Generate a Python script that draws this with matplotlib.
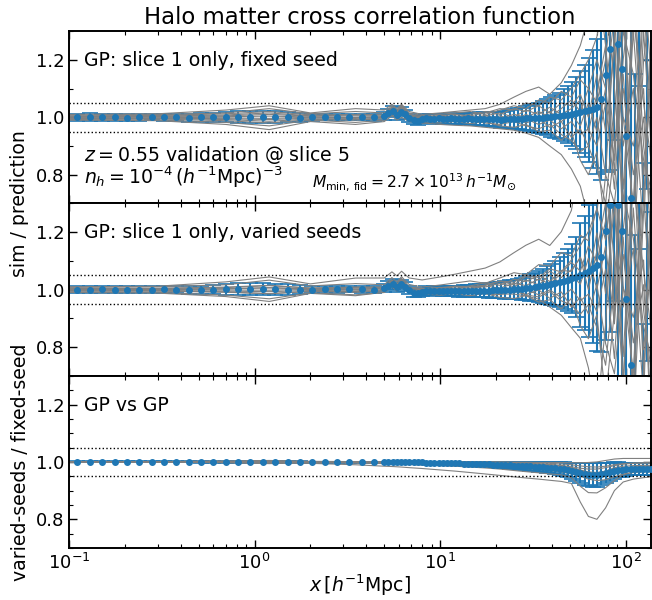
import matplotlib
matplotlib.use("Agg")
import matplotlib.pyplot as plt
import numpy as np
from matplotlib.ticker import MultipleLocator, LogLocator, NullFormatter

TITLE = "Halo matter cross correlation function"
PANEL_LABELS = [
    "GP: slice 1 only, fixed seed",
    "GP: slice 1 only, varied seeds",
    "GP vs GP",
]
INFO_Z = r"$z = 0.55$ validation @ slice 5"
INFO_N = r"$n_h = 10^{-4}\,(h^{-1}\mathrm{Mpc})^{-3}$"
INFO_M = r"$M_{\rm min,\,fid} = 2.7 \times 10^{13}\,h^{-1}M_{\odot}$"
YLABEL_TOP = "sim / prediction"
YLABEL_BOTTOM = "varied-seeds / fixed-seed"
XLABEL = r"$x\,[h^{-1}\mathrm{Mpc}]$"

# bin centres of the measured ratio (log bins, then finer bins on large scales)
BIN_X_SMALL = [
    0.111, 0.129, 0.151, 0.176, 0.205, 0.239, 0.279, 0.325, 0.379, 0.442,
    0.515, 0.600, 0.700, 0.816, 0.951, 1.109, 1.293, 1.507, 1.757, 2.049,
    2.389, 2.785, 3.247, 3.786, 4.414,
]
BIN_X_LARGE = [
    5.00, 5.27, 5.55, 5.84, 6.15, 6.48, 6.83, 7.19, 7.57, 7.97,
    8.40, 8.84, 9.31, 9.81, 10.33, 10.88, 11.46, 12.07, 12.71, 13.39,
    14.10, 14.84, 15.63, 16.46, 17.34, 18.26, 19.24, 20.26, 21.34, 22.47,
    23.67, 24.92, 26.25, 27.65, 29.12, 30.67, 32.30, 34.02, 35.83, 37.73,
    39.74, 41.85, 44.08, 46.42, 48.89, 51.49, 54.23, 57.11, 60.15, 63.35,
    66.72, 70.27, 74.01, 77.94, 82.09, 86.46, 91.05, 95.90, 101.0, 106.4,
    112.0, 118.0, 124.3, 130.9, 137.8,
]

# panel 1: sim / GP (fixed seed), mean and scatter over validation cosmologies
P1_MEAN = [
    1.000, 1.001, 1.000, 1.000, 0.999, 1.000, 1.001, 1.000, 1.000, 0.999,
    1.000, 1.000, 1.001, 1.001, 1.002, 1.002, 1.001, 1.000, 0.999, 1.000,
    1.001, 1.002, 1.002, 1.001, 1.000,
    1.005, 1.015, 1.022, 1.008, 1.020, 1.010, 0.998, 0.990, 0.988, 0.993,
    0.996, 0.995, 0.994, 0.996, 0.995, 0.994, 0.996, 0.995, 0.994, 0.995,
    0.996, 0.995, 0.994, 0.995, 0.994, 0.993, 0.994, 0.993, 0.992, 0.993,
    0.993, 0.994, 0.995, 0.994, 0.996, 0.997, 0.997, 0.998, 0.999, 1.000,
    1.001, 1.003, 1.005, 1.007, 1.009, 1.011, 1.014, 1.018, 1.022, 1.026,
    1.030, 1.036, 1.062, 1.148, 1.237, 1.420, 1.255, 1.168, 0.936, 0.720,
    0.450, 1.550, 0.550, 1.650, 0.400,
]
P1_ERR = [
    0.013, 0.013, 0.013, 0.012, 0.012, 0.012, 0.012, 0.013, 0.013, 0.014,
    0.015, 0.016, 0.018, 0.020, 0.021, 0.021, 0.020, 0.018, 0.015, 0.013,
    0.012, 0.011, 0.011, 0.012, 0.013,
    0.014, 0.015, 0.016, 0.016, 0.016, 0.015, 0.014, 0.014, 0.014, 0.014,
    0.015, 0.015, 0.016, 0.016, 0.017, 0.017, 0.018, 0.018, 0.019, 0.020,
    0.020, 0.021, 0.022, 0.023, 0.024, 0.025, 0.026, 0.027, 0.028, 0.030,
    0.032, 0.034, 0.036, 0.039, 0.042, 0.045, 0.049, 0.053, 0.058, 0.063,
    0.068, 0.074, 0.081, 0.090, 0.100, 0.112, 0.126, 0.142, 0.160, 0.180,
    0.205, 0.235, 0.280, 0.340, 0.420, 0.500, 0.600, 0.700, 0.600, 0.650,
    0.700, 0.440, 0.290, 0.900, 0.800,
]

# panel 2: sim / GP (varied seeds)
P2_MEAN = [
    1.000, 1.000, 1.001, 1.000, 1.000, 0.999, 1.000, 1.001, 1.000, 1.000,
    0.999, 1.000, 1.001, 1.002, 1.002, 1.001, 1.001, 1.000, 1.000, 1.000,
    1.001, 1.001, 1.002, 1.001, 1.000,
    1.005, 1.014, 1.020, 1.008, 1.018, 1.010, 0.998, 0.990, 0.988, 0.993,
    0.996, 0.995, 0.995, 0.996, 0.996, 0.995, 0.996, 0.996, 0.995, 0.996,
    0.997, 0.996, 0.996, 0.997, 0.997, 0.997, 0.998, 0.998, 0.998, 0.999,
    1.000, 1.001, 1.002, 1.003, 1.005, 1.007, 1.009, 1.011, 1.013, 1.016,
    1.019, 1.022, 1.026, 1.030, 1.034, 1.039, 1.045, 1.051, 1.058, 1.066,
    1.074, 1.085, 1.114, 1.204, 1.294, 1.480, 1.294, 1.204, 0.968, 0.739,
    0.470, 1.600, 0.580, 1.700, 0.420,
]
P2_ERR = [
    0.013, 0.013, 0.013, 0.012, 0.012, 0.012, 0.012, 0.013, 0.013, 0.014,
    0.015, 0.016, 0.018, 0.020, 0.021, 0.021, 0.020, 0.018, 0.015, 0.013,
    0.012, 0.011, 0.011, 0.012, 0.013,
    0.014, 0.015, 0.016, 0.016, 0.016, 0.015, 0.014, 0.014, 0.014, 0.014,
    0.015, 0.015, 0.016, 0.016, 0.017, 0.017, 0.018, 0.018, 0.019, 0.020,
    0.020, 0.021, 0.022, 0.023, 0.024, 0.025, 0.026, 0.027, 0.028, 0.030,
    0.032, 0.034, 0.036, 0.039, 0.042, 0.046, 0.050, 0.055, 0.060, 0.066,
    0.072, 0.079, 0.087, 0.096, 0.107, 0.120, 0.140, 0.180, 0.200, 0.230,
    0.260, 0.300, 0.330, 0.380, 0.440, 0.520, 0.620, 0.720, 0.620, 0.680,
    0.720, 0.460, 0.300, 0.950, 0.850,
]

# panel 3: GP (varied seeds) / GP (fixed seed)
P3_MEAN = [
    1.000, 1.000, 1.000, 1.000, 1.000, 1.000, 1.000, 1.000, 1.000, 1.000,
    1.000, 1.000, 1.000, 1.000, 0.999, 0.999, 0.999, 0.999, 0.999, 0.999,
    0.999, 0.999, 0.999, 0.999, 0.999,
    0.999, 0.999, 0.999, 0.999, 0.999, 0.999, 0.998, 0.998, 0.998, 0.998,
    0.997, 0.997, 0.997, 0.996, 0.996, 0.996, 0.995, 0.995, 0.995, 0.994,
    0.994, 0.993, 0.993, 0.992, 0.992, 0.991, 0.990, 0.990, 0.989, 0.988,
    0.988, 0.987, 0.987, 0.986, 0.985, 0.984, 0.983, 0.982, 0.981, 0.980,
    0.980, 0.979, 0.977, 0.975, 0.972, 0.969, 0.966, 0.962, 0.958, 0.955,
    0.953, 0.955, 0.958, 0.962, 0.966, 0.970, 0.972, 0.973, 0.974, 0.975,
    0.975, 0.975, 0.975, 0.975, 0.975,
]
P3_ERR = [
    0.002, 0.002, 0.002, 0.002, 0.002, 0.002, 0.002, 0.002, 0.002, 0.002,
    0.003, 0.003, 0.004, 0.004, 0.004, 0.004, 0.004, 0.003, 0.003, 0.002,
    0.002, 0.002, 0.002, 0.002, 0.002,
    0.002, 0.002, 0.002, 0.002, 0.002, 0.002, 0.002, 0.003, 0.003, 0.003,
    0.003, 0.003, 0.003, 0.004, 0.004, 0.004, 0.004, 0.005, 0.005, 0.005,
    0.006, 0.006, 0.007, 0.007, 0.008, 0.008, 0.009, 0.009, 0.010, 0.010,
    0.011, 0.012, 0.012, 0.013, 0.013, 0.014, 0.015, 0.016, 0.017, 0.018,
    0.019, 0.020, 0.021, 0.023, 0.025, 0.028, 0.031, 0.034, 0.037, 0.040,
    0.042, 0.041, 0.038, 0.034, 0.031, 0.028, 0.026, 0.024, 0.022, 0.021,
    0.020, 0.020, 0.020, 0.020, 0.020,
]

# individual validation cosmologies, sampled at these separations
GREY_X = [
    0.1, 0.3, 0.7, 1.2, 2.0, 3.5, 5.0, 5.5,
    5.85, 6.2, 6.8, 8.0, 10, 12, 14.5, 17.5,
    21, 25, 29, 34, 39, 45, 51, 57,
    63, 70, 78, 87, 97, 110, 125, 137,
]
P1_GREY = [
    [1.010, 1.012, 1.025, 1.040, 1.015, 1.030, 1.025, 1.045,
     1.030, 1.045, 1.020, 1.010, 1.015, 1.020, 1.025, 1.030,
     1.045, 1.070, 1.090, 1.105, 1.080, 1.120, 1.180, 1.250,
     1.350, 1.500, 1.250, 0.800, 1.600, 0.500, 1.200, 1.400],
    [0.990, 0.988, 0.975, 0.957, 0.985, 0.975, 0.985, 1.005,
     0.990, 1.000, 0.985, 0.980, 0.975, 0.972, 0.970, 0.965,
     0.960, 0.955, 0.945, 0.930, 0.900, 0.870, 0.820, 0.760,
     0.650, 0.500, 0.800, 1.300, 0.600, 1.500, 0.900, 0.700],
    [1.005, 1.006, 1.012, 1.020, 1.008, 1.010, 1.010, 1.035,
     1.020, 1.040, 1.010, 1.000, 1.005, 1.010, 1.005, 1.015,
     1.030, 1.025, 1.050, 1.040, 1.070, 1.060, 1.100, 1.150,
     1.200, 1.280, 1.450, 1.100, 0.700, 1.300, 0.800, 1.100],
    [0.995, 0.994, 0.988, 0.980, 0.992, 0.990, 0.995, 1.020,
     1.005, 1.025, 0.995, 0.990, 0.992, 0.985, 0.990, 0.980,
     0.975, 0.985, 0.970, 0.960, 0.975, 0.940, 0.920, 0.880,
     0.900, 0.820, 0.700, 1.000, 1.400, 0.600, 1.300, 0.900],
    [1.002, 1.003, 1.005, 1.010, 1.004, 1.005, 1.005, 1.030,
     1.015, 1.035, 1.005, 0.995, 1.000, 1.000, 0.995, 1.005,
     0.995, 1.010, 1.000, 1.020, 1.000, 1.030, 1.060, 1.020,
     1.100, 1.050, 1.200, 1.500, 1.000, 0.700, 1.400, 1.000],
    [0.998, 0.997, 0.995, 0.992, 0.997, 0.996, 1.000, 1.025,
     1.010, 1.030, 1.000, 0.992, 0.995, 0.990, 0.998, 0.990,
     1.000, 0.985, 0.995, 0.975, 0.990, 0.960, 0.985, 0.940,
     0.960, 0.900, 1.050, 0.750, 1.200, 1.500, 0.700, 1.250],
    [1.008, 1.009, 1.015, 1.030, 1.012, 1.020, 1.015, 1.040,
     1.025, 1.042, 1.015, 1.005, 1.010, 1.015, 1.020, 1.010,
     1.025, 1.040, 1.030, 1.060, 1.050, 1.090, 1.070, 1.130,
     1.100, 1.200, 1.100, 1.350, 0.900, 1.100, 0.600, 1.300],
    [0.992, 0.991, 0.982, 0.970, 0.990, 0.982, 0.990, 1.010,
     0.995, 1.010, 0.990, 0.985, 0.980, 0.985, 0.978, 0.985,
     0.970, 0.965, 0.975, 0.950, 0.955, 0.920, 0.950, 0.850,
     0.800, 0.880, 0.600, 0.900, 1.100, 0.800, 1.000, 0.600],
    [1.000, 1.001, 1.002, 1.004, 1.001, 1.000, 1.002, 1.028,
     1.012, 1.032, 1.002, 0.998, 0.996, 1.002, 1.000, 0.995,
     1.005, 0.990, 1.010, 0.990, 1.020, 0.985, 1.010, 0.970,
     1.050, 0.950, 1.100, 0.850, 1.300, 1.150, 0.850, 0.750],
    [1.004, 1.004, 1.008, 1.015, 1.005, 1.008, 1.008, 1.032,
     1.018, 1.036, 1.008, 1.002, 1.006, 1.000, 1.010, 1.020,
     1.010, 1.030, 1.020, 1.040, 1.015, 1.050, 1.040, 1.080,
     1.000, 1.150, 0.950, 1.250, 0.750, 1.350, 1.050, 0.850],
    [0.996, 0.996, 0.992, 0.986, 0.994, 0.993, 0.997, 1.022,
     1.008, 1.028, 0.997, 0.995, 0.990, 0.995, 0.985, 0.995,
     0.985, 1.000, 0.980, 0.995, 0.965, 0.985, 0.930, 0.960,
     0.900, 1.000, 0.800, 0.700, 1.000, 0.900, 1.100, 0.500],
    [1.001, 1.000, 0.998, 0.996, 1.000, 0.999, 1.001, 1.026,
     1.011, 1.030, 1.001, 0.997, 1.002, 1.005, 1.000, 1.005,
     1.015, 1.000, 1.025, 1.010, 1.035, 1.010, 1.030, 1.060,
     0.950, 1.080, 1.250, 0.900, 1.150, 0.650, 1.500, 1.150],
]
P3_GREY = [
    [1.000, 1.000, 0.998, 0.996, 0.995, 0.990, 0.985, 0.984,
     0.983, 0.982, 0.980, 0.977, 0.972, 0.968, 0.963, 0.958,
     0.953, 0.948, 0.944, 0.940, 0.936, 0.932, 0.925, 0.860,
     0.810, 0.800, 0.840, 0.900, 0.930, 0.940, 0.945, 0.948],
    [1.000, 1.000, 0.999, 0.998, 0.998, 0.996, 0.994, 0.993,
     0.992, 0.992, 0.991, 0.989, 0.987, 0.985, 0.982, 0.979,
     0.975, 0.970, 0.966, 0.962, 0.958, 0.955, 0.945, 0.915,
     0.893, 0.892, 0.910, 0.935, 0.955, 0.965, 0.970, 0.972],
    [1.000, 1.001, 1.003, 1.005, 1.002, 1.001, 1.001, 1.001,
     1.001, 1.001, 1.001, 1.001, 1.001, 1.000, 1.000, 1.000,
     1.000, 0.999, 0.999, 0.998, 0.998, 0.998, 0.997, 0.997,
     0.998, 1.000, 1.005, 1.010, 1.012, 1.012, 1.012, 1.012],
    [1.000, 0.999, 0.997, 0.994, 0.998, 0.999, 0.999, 0.999,
     0.999, 0.999, 0.998, 0.998, 0.997, 0.996, 0.995, 0.994,
     0.992, 0.990, 0.988, 0.985, 0.982, 0.978, 0.972, 0.962,
     0.950, 0.945, 0.950, 0.962, 0.970, 0.975, 0.976, 0.976],
    [1.000, 1.001, 1.002, 1.003, 1.001, 1.000, 0.999, 0.999,
     0.998, 0.998, 0.998, 0.997, 0.996, 0.995, 0.994, 0.992,
     0.990, 0.988, 0.986, 0.984, 0.980, 0.975, 0.968, 0.958,
     0.955, 0.958, 0.968, 0.980, 0.985, 0.987, 0.988, 0.988],
    [1.000, 1.000, 1.000, 0.999, 1.000, 1.000, 1.000, 1.000,
     1.000, 1.000, 1.000, 0.999, 0.999, 0.998, 0.998, 0.997,
     0.996, 0.995, 0.994, 0.993, 0.991, 0.988, 0.983, 0.978,
     0.975, 0.975, 0.980, 0.987, 0.992, 0.995, 0.996, 0.996],
    [1.000, 0.999, 0.998, 0.997, 0.999, 0.999, 0.998, 0.998,
     0.998, 0.997, 0.997, 0.996, 0.994, 0.992, 0.990, 0.988,
     0.985, 0.982, 0.979, 0.975, 0.970, 0.965, 0.958, 0.950,
     0.940, 0.935, 0.938, 0.948, 0.958, 0.963, 0.965, 0.965],
    [1.000, 1.000, 1.001, 1.002, 1.001, 1.000, 1.000, 1.000,
     1.000, 1.000, 1.000, 1.000, 0.999, 0.999, 0.999, 0.998,
     0.997, 0.996, 0.995, 0.993, 0.990, 0.986, 0.980, 0.972,
     0.965, 0.963, 0.968, 0.975, 0.980, 0.982, 0.983, 0.983],
    [1.000, 1.000, 0.999, 0.998, 0.999, 0.998, 0.997, 0.997,
     0.996, 0.996, 0.995, 0.994, 0.993, 0.991, 0.989, 0.986,
     0.983, 0.980, 0.977, 0.974, 0.970, 0.966, 0.960, 0.952,
     0.946, 0.948, 0.955, 0.965, 0.972, 0.975, 0.976, 0.976],
    [1.000, 1.000, 1.001, 1.001, 1.000, 1.000, 1.000, 1.000,
     1.000, 1.000, 0.999, 0.999, 0.998, 0.998, 0.997, 0.996,
     0.995, 0.994, 0.992, 0.990, 0.987, 0.984, 0.978, 0.970,
     0.962, 0.960, 0.963, 0.970, 0.978, 0.982, 0.984, 0.985],
    [1.000, 1.000, 1.000, 1.000, 1.000, 1.000, 1.000, 1.000,
     1.000, 1.000, 1.000, 1.000, 1.000, 0.999, 0.999, 0.999,
     0.998, 0.998, 0.997, 0.996, 0.995, 0.993, 0.990, 0.986,
     0.983, 0.982, 0.985, 0.990, 0.994, 0.996, 0.997, 0.997],
    [1.000, 0.999, 0.999, 0.998, 0.999, 0.999, 0.998, 0.998,
     0.998, 0.998, 0.997, 0.996, 0.995, 0.993, 0.991, 0.989,
     0.986, 0.983, 0.980, 0.977, 0.973, 0.969, 0.963, 0.955,
     0.950, 0.952, 0.960, 0.968, 0.973, 0.975, 0.975, 0.975],
]

BLUE = "#1f77b4"
GREY = "grey"
FONTSIZE = 13
TEXT_SIZE = 13.6
X_RANGE = (0.1, 137)
Y_RANGE = (0.7, 1.3)
# the two sim/prediction panels carry minor ticks every 0.1, the GP-vs-GP one every 0.05
Y_MINOR_STEPS = [0.1, 0.1, 0.05]

# axes boxes in figure pixels (left, top, right, bottom) for a 652x600 canvas
FIG_W, FIG_H = 652, 600
PANEL_BOXES = [(69, 31, 651, 203.5), (69, 203.5, 651, 375.8), (69, 375.8, 651, 548)]


def _add_panel(fig, box):
    left, top, right, bottom = box
    return fig.add_axes(
        [left / FIG_W, 1 - bottom / FIG_H, (right - left) / FIG_W, (bottom - top) / FIG_H]
    )


def _style_axis(axis, show_xlabels, minor_step):
    axis.set_xscale("log")
    axis.set_xlim(*X_RANGE)
    axis.set_ylim(*Y_RANGE)
    axis.yaxis.set_major_locator(MultipleLocator(0.2))
    axis.yaxis.set_minor_locator(MultipleLocator(minor_step))
    axis.xaxis.set_minor_locator(LogLocator(base=10, subs=np.arange(2, 10)))
    axis.xaxis.set_minor_formatter(NullFormatter())
    axis.tick_params(which="both", direction="in", top=True, right=True,
                     labelsize=FONTSIZE)
    axis.tick_params(which="major", length=6, width=1.0)
    axis.tick_params(which="minor", length=3, width=0.8)
    for spine in axis.spines.values():
        spine.set_linewidth(1.4)
    if not show_xlabels:
        axis.tick_params(labelbottom=False)


def _draw_panel(axis, grey_curves, mean, err):
    x = np.array(BIN_X_SMALL + BIN_X_LARGE)
    for curve in grey_curves:
        axis.plot(GREY_X, curve, color=GREY, linewidth=0.8, zorder=2.5)
    container = axis.errorbar(
        x, mean, yerr=err, fmt="o", color=BLUE, markersize=4,
        elinewidth=1.5, capsize=5.5, capthick=1.2, zorder=2,
    )
    container[0].set_zorder(3)
    for level in (0.95, 1.05):
        axis.axhline(level, color="k", linestyle=":", linewidth=1.0, zorder=4)


p1_grey = np.array(P1_GREY)
p3_grey = np.array(P3_GREY)
# sim / GP(varied) = [sim / GP(fixed)] / [GP(varied) / GP(fixed)]
p2_grey = p1_grey / p3_grey

figure = plt.figure(figsize=(FIG_W / 100, FIG_H / 100), dpi=100)
axes = [_add_panel(figure, box) for box in PANEL_BOXES]

_draw_panel(axes[0], p1_grey, P1_MEAN, P1_ERR)
_draw_panel(axes[1], p2_grey, P2_MEAN, P2_ERR)
_draw_panel(axes[2], p3_grey, P3_MEAN, P3_ERR)

for index, axis in enumerate(axes):
    _style_axis(axis, show_xlabels=(index == 2), minor_step=Y_MINOR_STEPS[index])
    axis.text(0.026, 0.83, PANEL_LABELS[index], transform=axis.transAxes,
              fontsize=TEXT_SIZE, va="center", ha="left")

axes[0].text(0.026, 0.28, INFO_Z, transform=axes[0].transAxes,
             fontsize=TEXT_SIZE, va="center", ha="left")
axes[0].text(0.026, 0.15, INFO_N, transform=axes[0].transAxes,
             fontsize=TEXT_SIZE, va="center", ha="left")
axes[0].text(0.418, 0.125, INFO_M, transform=axes[0].transAxes,
             fontsize=11.2, va="center", ha="left")

axes[0].set_title(TITLE, fontsize=16.4, pad=5)
axes[2].set_xlabel(XLABEL, fontsize=TEXT_SIZE, labelpad=0)

figure.text(20 / FIG_W, 1 - 203.5 / FIG_H, YLABEL_TOP, rotation=90,
            fontsize=TEXT_SIZE, ha="center", va="center")
figure.text(21 / FIG_W, 1 - 461.8 / FIG_H, YLABEL_BOTTOM, rotation=90,
            fontsize=TEXT_SIZE, ha="center", va="center")

figure.savefig("out.png", dpi=100)
